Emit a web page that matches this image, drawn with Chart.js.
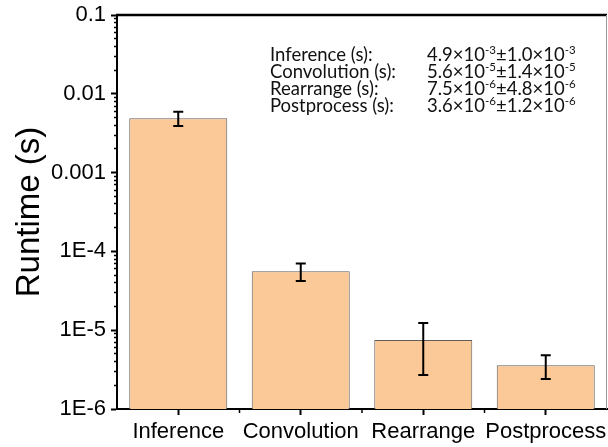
<!DOCTYPE html>
<html>
<head>
<meta charset="utf-8">
<script src="https://cdn.jsdelivr.net/npm/chart.js@4.4.1/dist/chart.umd.min.js"></script>
<style>
  html, body { margin: 0; padding: 0; background: #fff; }
  #wrap { width: 608px; height: 447px; position: relative; }
</style>
</head>
<body>
<div id="wrap"><canvas id="myChart"></canvas></div>
<script>
// runtime per stage, mean and standard deviation (seconds)
const stages = ["Inference", "Convolution", "Rearrange", "Postprocess"];
const runtimeMean = [4.9e-3, 5.6e-5, 7.5e-6, 3.6e-6];
const runtimeStd = [1.0e-3, 1.4e-5, 4.8e-6, 1.2e-6];

const yMin = 1e-6;
const yMax = 0.1;
const yTickLabels = ["1E-6", "1E-5", "1E-4", "0.001", "0.01", "0.1"];

const axisFont = "'Liberation Sans', Arial, sans-serif";
const noteFont = "Lato, 'Noto Sans', sans-serif";

const isDecade = (v) => Math.abs(Math.log10(v) - Math.round(Math.log10(v))) < 1e-9;

// black I-beams on top of each bar
const errorBars = {
  id: "errorBars",
  afterDatasetsDraw(chart) {
    const { ctx } = chart;
    const y = chart.scales.y;
    const meta = chart.getDatasetMeta(0);
    ctx.save();
    ctx.strokeStyle = "#000";
    ctx.lineWidth = 2;
    meta.data.forEach((bar, i) => {
      const hi = y.getPixelForValue(runtimeMean[i] + runtimeStd[i]);
      const lo = y.getPixelForValue(runtimeMean[i] - runtimeStd[i]);
      const cap = 5;
      ctx.beginPath();
      ctx.moveTo(bar.x, hi);
      ctx.lineTo(bar.x, lo);
      ctx.moveTo(bar.x - cap, hi);
      ctx.lineTo(bar.x + cap, hi);
      ctx.moveTo(bar.x - cap, lo);
      ctx.lineTo(bar.x + cap, lo);
      ctx.stroke();
    });
    ctx.restore();
  },
};

// frame on top/right plus the short ticks between categories
const frame = {
  id: "frame",
  afterDraw(chart) {
    const { ctx, chartArea } = chart;
    const x = chart.scales.x;
    ctx.save();
    ctx.strokeStyle = "#000";
    ctx.lineWidth = 2.5;
    ctx.beginPath();
    ctx.moveTo(chartArea.left - 1, chartArea.top);
    ctx.lineTo(chartArea.right, chartArea.top);
    ctx.stroke();

    ctx.strokeStyle = "#9a9a9a";
    ctx.lineWidth = 1;
    ctx.beginPath();
    ctx.moveTo(chartArea.right - 0.5, chartArea.top);
    ctx.lineTo(chartArea.right - 0.5, chartArea.bottom);
    ctx.stroke();

    ctx.strokeStyle = "#000";
    ctx.lineWidth = 1.5;
    ctx.beginPath();
    for (let i = 0; i < stages.length - 1; i++) {
      const px = (x.getPixelForValue(i) + x.getPixelForValue(i + 1)) / 2;
      ctx.moveTo(px, chartArea.bottom);
      ctx.lineTo(px, chartArea.bottom + 4);
    }
    ctx.stroke();
    ctx.restore();
  },
};

// summary text, mantissa x 10^exp with raised exponents
const summary = {
  id: "summary",
  afterDraw(chart) {
    const { ctx } = chart;
    const size = 18.5;
    const base = size + "px " + noteFont;
    const sup = (size * 0.62).toFixed(1) + "px " + noteFont;
    ctx.save();
    ctx.fillStyle = "#111";
    ctx.textBaseline = "alphabetic";
    ctx.textAlign = "left";

    const piece = (text, x, y, font) => {
      ctx.font = font;
      ctx.fillText(text, x, y);
      return x + ctx.measureText(text).width;
    };
    const sci = (v, x, y) => {
      const [m, e] = v.toExponential(1).split("e");
      x = piece(m + "\u00d710", x, y, base);
      return piece(String(parseInt(e, 10)), x, y - 7, sup);
    };

    stages.forEach((name, i) => {
      const yy = 61 + i * 17;
      piece(name + " (s):", 270, yy, base);
      let x = sci(runtimeMean[i], 427, yy);
      x = piece("\u00b1", x, yy, base);
      sci(runtimeStd[i], x, yy);
    });
    ctx.restore();
  },
};

const data = {
  labels: stages,
  datasets: [
    {
      label: "Runtime (s)",
      data: runtimeMean,
      backgroundColor: "#fbc997",
      borderColor: "#5f5f5f",
      borderWidth: 1,
      barPercentage: 0.8,
      categoryPercentage: 1.0,
    },
  ],
};

const config = {
  type: "bar",
  data,
  options: {
    responsive: true,
    maintainAspectRatio: false,
    animation: false,
    layout: { padding: { top: 15, right: 1, left: 0, bottom: 0 } },
    plugins: {
      legend: { display: false },
      tooltip: { enabled: false },
    },
    scales: {
      x: {
        type: "category",
        offset: true,
        afterFit: (scale) => {
          scale.height = 38;
          scale.paddingLeft = 0;
          scale.paddingRight = 0;
        },
        grid: {
          offset: false,
          drawOnChartArea: false,
          tickLength: 6,
          tickWidth: 2,
          tickColor: "#000",
        },
        border: { display: true, color: "#000", width: 2 },
        ticks: {
          color: "#000",
          padding: 4,
          maxRotation: 0,
          autoSkip: false,
          font: { family: axisFont, size: 22 },
        },
      },
      y: {
        type: "logarithmic",
        min: yMin,
        max: yMax,
        afterFit: (scale) => {
          scale.width = 117;
          scale.paddingTop = 0;
          scale.paddingBottom = 0;
        },
        afterBuildTicks: (scale) => {
          const ticks = [];
          for (let e = -6; e <= -1; e++) {
            for (let m = 1; m <= 9; m++) {
              const v = Number((m * Math.pow(10, e)).toPrecision(3));
              if (v > yMax * 1.0001) break;
              ticks.push({ value: v });
            }
          }
          scale.ticks = ticks;
        },
        grid: {
          drawOnChartArea: false,
          tickLength: 6,
          tickColor: "#000",
          tickWidth: (c) => (c.tick && isDecade(c.tick.value) ? 2 : 1.5),
          tickBorderDash: (c) => (c.tick && isDecade(c.tick.value) ? [] : [0, 3, 3, 10]),
        },
        border: { display: true, color: "#000", width: 2 },
        ticks: {
          color: "#000",
          padding: 5,
          autoSkip: false,
          font: { family: axisFont, size: 22 },
          callback: (value) => {
            if (!isDecade(value)) return "";
            return yTickLabels[Math.round(Math.log10(value)) + 6];
          },
        },
        title: {
          display: true,
          text: "Runtime (s)",
          color: "#000",
          padding: { top: 13, bottom: 0 },
          font: { family: axisFont, size: 33, lineHeight: 1 },
        },
      },
    },
  },
  plugins: [errorBars, frame, summary],
};

const myChart = new Chart(document.querySelector("#myChart"), config);
</script>
</body>
</html>
